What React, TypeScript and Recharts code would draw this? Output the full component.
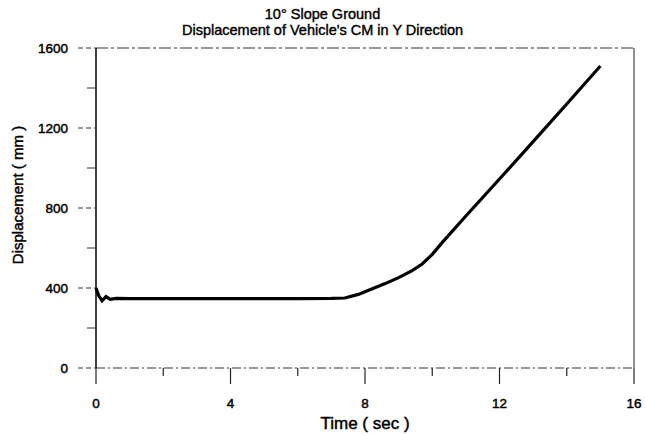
import React from "react";
import {
  LineChart,
  Line,
  XAxis,
  YAxis,
  ReferenceLine,
} from "recharts";

// Time (sec) and displacement (mm)
const TIME = [0, 0.08, 0.18, 0.3, 0.42, 0.6, 1, 2, 3, 4, 5, 6, 7, 7.4, 7.8, 8.2, 8.6, 9, 9.4, 9.7, 10, 10.3, 11, 12, 13, 14, 15];
const DISP = [400, 362, 336, 357, 343, 348, 347, 347, 347, 347, 347, 347, 348, 350, 368, 395, 422, 452, 487, 520, 568, 628, 760, 945, 1132, 1320, 1510];

const X_TICKS = [0, 2, 4, 6, 8, 10, 12, 14, 16];
const Y_TICKS = [0, 200, 400, 600, 800, 1000, 1200, 1400, 1600];

const TITLE_LINES = ["10° Slope Ground", "Displacement of Vehicle's CM in Y Direction"];
const X_LABEL = "Time ( sec )";
const Y_LABEL = "Displacement ( mm )";

const FONT = '"Liberation Sans", Arial, sans-serif';
const INK = "#000";
// scanned text looks a bit heavier than plain regular weight
const HEAVY = { stroke: "#000", strokeWidth: 0.45 };

const Y_TICK_SIZE = 18;
const Y_TICK_MARGIN = 10;
const X_TICK_SIZE = 16;
const X_TICK_MARGIN = 14;

const data = TIME.map((t, i) => ({ t, d: DISP[i] }));

function YTick(props: any) {
  const { x, y, payload } = props;
  const axisX = x + Y_TICK_SIZE + Y_TICK_MARGIN;
  const major = payload.value % 400 === 0;
  return (
    <g>
      <line
        x1={axisX - (major ? Y_TICK_SIZE : 9)}
        x2={axisX}
        y1={y}
        y2={y}
        stroke="#333"
        strokeWidth={1}
        strokeDasharray={major ? "5 3" : undefined}
      />
      {major && (
        <text x={x} y={y} dy={5} textAnchor="end" fontSize={13.5} fontFamily={FONT} fill={INK} {...HEAVY}>
          {payload.value}
        </text>
      )}
    </g>
  );
}

function XTick(props: any) {
  const { x, y, payload } = props;
  const axisY = y - X_TICK_SIZE - X_TICK_MARGIN;
  const major = payload.value % 4 === 0;
  return (
    <g>
      <line x1={x} x2={x} y1={axisY} y2={axisY + (major ? X_TICK_SIZE : 8)} stroke="#222" strokeWidth={1.2} />
      {major && (
        <text x={x} y={y} dy={10} textAnchor="middle" fontSize={13.5} fontFamily={FONT} fill={INK} {...HEAVY}>
          {payload.value}
        </text>
      )}
    </g>
  );
}

export default function App() {
  return (
    <div
      style={{
        position: "absolute",
        left: 0,
        top: 0,
        width: 645,
        height: 435,
        background: "#fff",
        fontFamily: FONT,
      }}
    >
      <div
        style={{
          position: "absolute",
          top: 6,
          left: 0,
          width: 645,
          textAlign: "center",
          fontSize: 14.5,
          lineHeight: "16px",
          color: INK,
          WebkitTextStroke: "0.4px #000",
        }}
      >
        {TITLE_LINES.map((l) => (
          <div key={l}>{l}</div>
        ))}
      </div>
      <LineChart width={645} height={435} data={data} margin={{ top: 48, right: 11, bottom: 0, left: 0 }}>
        <XAxis
          dataKey="t"
          type="number"
          domain={[0, 16]}
          ticks={X_TICKS}
          interval={0}
          height={67}
          tickSize={X_TICK_SIZE}
          tickMargin={X_TICK_MARGIN}
          tickLine={false}
          tick={<XTick />}
          axisLine={{ stroke: "#333", strokeDasharray: "9 3 2 3" }}
          label={{
            content: (p: any) => {
              const vb = p.viewBox;
              return (
                <text
                  x={vb.x + vb.width / 2}
                  y={vb.y + 61}
                  textAnchor="middle"
                  fontSize={17}
                  fontFamily={FONT}
                  fill={INK}
                  {...HEAVY}
                >
                  {X_LABEL}
                </text>
              );
            },
          }}
        />
        <YAxis
          type="number"
          domain={[0, 1600]}
          ticks={Y_TICKS}
          interval={0}
          width={96}
          tickSize={Y_TICK_SIZE}
          tickMargin={Y_TICK_MARGIN}
          tickLine={false}
          tick={<YTick />}
          axisLine={{ stroke: "#000", strokeWidth: 1.5 }}
          label={{
            content: (p: any) => {
              const vb = p.viewBox;
              const cx = vb.x + 18;
              const cy = vb.y + vb.height / 2 - 13;
              return (
                <text
                  x={cx}
                  y={cy}
                  dy={5}
                  transform={`rotate(-90 ${cx} ${cy})`}
                  textAnchor="middle"
                  fontSize={15}
                  fontFamily={FONT}
                  fill={INK}
                  {...HEAVY}
                >
                  {Y_LABEL}
                </text>
              );
            },
          }}
        />
        <ReferenceLine y={1600} stroke="#333" strokeDasharray="12 3 3 3" />
        <ReferenceLine x={16} stroke="#222" />
        <Line
          type="linear"
          dataKey="d"
          stroke="#000"
          strokeWidth={3.2}
          dot={false}
          isAnimationActive={false}
        />
      </LineChart>
    </div>
  );
}
